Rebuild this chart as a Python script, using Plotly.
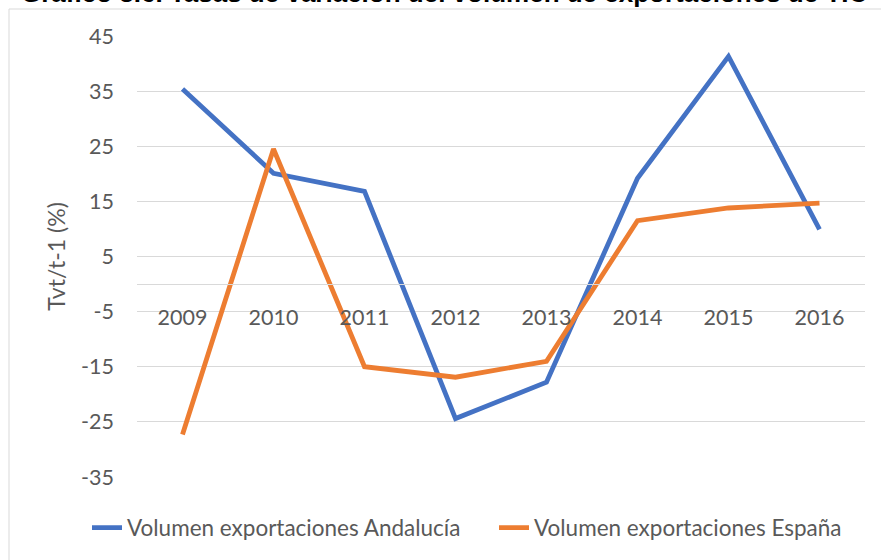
import plotly.graph_objects as go

years = ["2009", "2010", "2011", "2012", "2013", "2014", "2015", "2016"]
andalucia = [35.4, 20.1, 16.8, -24.4, -17.8, 19.2, 41.3, 9.9]
espana = [-27.3, 24.5, -15.0, -16.9, -14.0, 11.5, 13.8, 14.7]
series_names = ["Volumen exportaciones Andalucía", "Volumen exportaciones España"]
y_ticks = [-35, -25, -15, -5, 5, 15, 25, 35, 45]
y_tick_labels = ["-35", "-25", "-15", "-5", "5", "15", "25", "35", "45"]
title_text = "Gráfico 3.6. Tasas de variación del volumen de exportaciones de TIC"

W, H = 881, 560
ML, MR, MT, MB = 137, 16, 36, 83
PW, PH = W - ML - MR, H - MT - MB
ymin, ymax = -35, 45

def px_x(p):
    return (p - ML) / PW

def px_y(p):
    return (MT + PH - p) / PH

grey = "#595959"
font = "Lato, 'Open Sans', sans-serif"
fs = 21.5
fs_leg = 22.5

fig = go.Figure()
fig.add_trace(go.Scatter(x=years, y=andalucia, mode="lines", name=series_names[0],
                         line=dict(color="#4472C4", width=4.8), legend="legend"))
fig.add_trace(go.Scatter(x=years, y=espana, mode="lines", name=series_names[1],
                         line=dict(color="#ED7D31", width=4.8), legend="legend2"))

leg_common = dict(orientation="h", yanchor="middle", xanchor="left",
                  font=dict(family=font, size=fs_leg, color=grey), bgcolor="rgba(0,0,0,0)")

fig.update_layout(
    width=W, height=H,
    margin=dict(l=ML, r=MR, t=MT, b=MB, autoexpand=False),
    paper_bgcolor="white", plot_bgcolor="white",
    font=dict(family=font, size=fs, color=grey),
    showlegend=True,
    legend=dict(x=px_x(87), y=px_y(528), **leg_common),
    legend2=dict(x=px_x(494), y=px_y(528), **leg_common),
    xaxis=dict(type="category", range=[-0.5, 7.5], anchor="free",
               position=(0 - ymin) / (ymax - ymin),
               showline=True, linecolor="#d9d9d9", linewidth=1,
               showgrid=False, ticks="", ticklabelstandoff=14,
               tickfont=dict(size=fs, color=grey)),
    yaxis=dict(range=[ymin, ymax], tickvals=y_ticks, ticktext=y_tick_labels,
               showgrid=True, gridcolor="#d9d9d9",
               gridwidth=1, zeroline=False, showline=False, ticks="",
               ticklabelstandoff=22,
               title=dict(text="Tvt/t-1 (%)", font=dict(size=23, color=grey), standoff=9),
               tickfont=dict(size=fs, color=grey)),
    shapes=[dict(type="rect", xref="paper", yref="paper",
                 x0=px_x(9), x1=px_x(900), y0=px_y(580), y1=px_y(9),
                 line=dict(color="#d9d9d9", width=1), fillcolor="rgba(0,0,0,0)", layer="below")],
    annotations=[dict(text="<b>" + title_text + "</b>", xref="paper", yref="paper",
                      x=px_x(19), y=px_y(-7), xanchor="left", yanchor="middle", showarrow=False,
                      font=dict(family="Liberation Sans, Arial, sans-serif", size=26, color="black"))],
)

fig.write_html("out.html", config={"displayModeBar": False},
               post_script="document.body.style.margin='0';document.body.style.padding='0';")
